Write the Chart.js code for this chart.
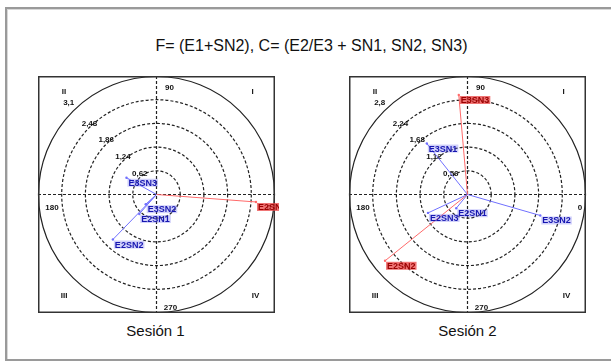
<!DOCTYPE html>
<html>
<head>
<meta charset="utf-8">
<script src="https://cdn.jsdelivr.net/npm/chart.js@4"></script>
<style>
  body { margin: 0; background: #fff; width: 611px; height: 363px; overflow: hidden; position: relative; font-family: "Liberation Sans", Arial, sans-serif; }
  #panel { position: absolute; left: 5px; top: 7px; width: 620px; height: 350px; border: 2px solid #9a9a9a; box-shadow: inset 1px 1px 0 #d8d8d8; }
  #title { position: absolute; left: 6px; width: 611px; top: 37px; text-align: center; font-size: 16px; color: #111; }
  .cap { position: absolute; top: 322px; width: 245px; text-align: center; font-size: 15px; color: #111; }
  canvas { position: absolute; top: 72px; }
</style>
</head>
<body>
<div id="panel"></div>
<div id="title">F= (E1+SN2), C= (E2/E3 + SN1, SN2, SN3)</div>
<canvas id="s1" width="245" height="245" style="left:34px"></canvas>
<canvas id="s2" width="245" height="245" style="left:345px"></canvas>
<div class="cap" style="left:33px">Sesión 1</div>
<div class="cap" style="left:345px">Sesión 2</div>
<script>
// session 1
const ringValues1 = [0.62, 1.24, 1.86, 2.48, 3.1];
const ringLabels1 = ["0,62", "1,24", "1,86", "2,48", "3,1"];
const names1 = ["E2SN", "E3SN3", "E3SN2", "E2SN1", "E2SN2"];
const radius1 = [2.61, 0.90, 0.38, 0.68, 1.64];
const angle1 = [355.7, 150.8, 222, 228.5, 225.9];
const group1 = ["red", "blue", "blue", "blue", "blue"];

// session 2
const ringValues2 = [0.56, 1.12, 1.68, 2.24, 2.8];
const ringLabels2 = ["0,56", "1,12", "1,68", "2,24", "2,8"];
const names2 = ["E3SN3", "E3SN1", "E3SN2", "E2SN3", "E2SN2", "E2SN1"];
const radius2 = [2.36, 1.54, 1.79, 1.03, 2.50, 0.42];
const angle2 = [95.0, 128.6, 343.9, 205.0, 218.8, 230.7];
const group2 = ["red", "blue", "blue", "blue", "red", "blue"];

const angleLabels = ["0", "90", "180", "270"];
const quadrantLabels = ["I", "II", "III", "IV"];

const lineColor = { red: "#ff6a6a", blue: "#7070ff" };
const boxColor = { red: "rgba(235,70,70,0.75)", blue: "rgba(120,120,240,0.35)" };
const textColor = { red: "#9a0000", blue: "#1616b0" };

function toXY(r, deg) {
  const a = deg * Math.PI / 180;
  return { x: r * Math.cos(a), y: r * Math.sin(a) };
}

const polarGrid = {
  id: "polarGrid",
  beforeDatasetsDraw(chart, args, opts) {
    const ctx = chart.ctx;
    const a = chart.chartArea;
    const xs = chart.scales.x, ys = chart.scales.y;
    const cx = xs.getPixelForValue(0), cy = ys.getPixelForValue(0);
    ctx.save();
    ctx.strokeStyle = "#222";
    ctx.lineWidth = 1.2;
    // crosshair
    ctx.setLineDash([3, 2]);
    ctx.beginPath();
    ctx.moveTo(a.left, cy); ctx.lineTo(a.right, cy);
    ctx.moveTo(cx, a.top); ctx.lineTo(cx, a.bottom);
    ctx.stroke();
    // rings
    opts.rings.forEach((v, i) => {
      const rad = xs.getPixelForValue(v) - cx;
      const last = i === opts.rings.length - 1;
      ctx.setLineDash(last ? [] : [3, 2]);
      ctx.beginPath();
      ctx.arc(cx, cy, last ? rad - 0.5 : rad, 0, Math.PI * 2);
      ctx.stroke();
    });
    ctx.setLineDash([]);
    ctx.lineWidth = 1.5;
    ctx.strokeStyle = "#333";
    ctx.strokeRect(a.left + 0.75, a.top + 0.75, a.right - a.left - 1.5, a.bottom - a.top - 1.5);

    // ring labels along 135 degrees
    ctx.fillStyle = "#111";
    ctx.font = "bold 8px 'Liberation Sans', Arial";
    ctx.textAlign = "center";
    ctx.textBaseline = "middle";
    opts.rings.forEach((v, i) => {
      const p = toXY(v, 135);
      const px = xs.getPixelForValue(p.x), py = ys.getPixelForValue(p.y);
      const shift = i === opts.rings.length - 1 ? -4 : 0;
      ctx.fillText(opts.ringLabels[i], px + shift, py - 4 + shift);
    });

    // angle and quadrant labels
    const w = a.right - a.left, h = a.bottom - a.top;
    ctx.fillText(angleLabels[1], cx + 13, a.top + 12);
    ctx.fillText(angleLabels[2], a.left + 14, cy + 13);
    ctx.fillText(angleLabels[0], a.right - 6, cy + 13);
    ctx.fillText(angleLabels[3], cx + 14, a.bottom - 5);
    ctx.fillText(quadrantLabels[1], a.left + 0.11 * w, a.top + 0.065 * h);
    ctx.fillText(quadrantLabels[0], a.left + 0.906 * w, a.top + 0.065 * h);
    ctx.fillText(quadrantLabels[2], a.left + 0.11 * w, a.top + 0.927 * h);
    ctx.fillText(quadrantLabels[3], a.left + 0.918 * w, a.top + 0.927 * h);
    ctx.restore();
  },
  afterDatasetsDraw(chart, args, opts) {
    const ctx = chart.ctx;
    ctx.save();
    ctx.font = "bold 9px 'Liberation Sans Narrow', 'Liberation Sans', Arial";
    ctx.textAlign = "left";
    ctx.textBaseline = "top";
    chart.data.datasets.forEach((ds, i) => {
      const pt = chart.getDatasetMeta(i).data[1];
      const g = opts.groups[i];
      const tw = ctx.measureText(ds.label).width;
      const x = pt.x + 1, y = pt.y + 1;
      ctx.fillStyle = boxColor[g];
      ctx.fillRect(x, y, tw + 2, 8);
      ctx.fillStyle = textColor[g];
      ctx.fillText(ds.label, x + 1, y);
    });
    ctx.restore();
  }
};

function makeChart(id, names, radius, angle, groups, rings, ringLabels) {
  const datasets = names.map((n, i) => {
    const p = toXY(radius[i], angle[i]);
    return {
      label: n,
      data: [{ x: 0, y: 0 }, p],
      showLine: true,
      borderColor: lineColor[groups[i]],
      borderWidth: 1,
      pointRadius: [0, 1.2],
      pointBackgroundColor: lineColor[groups[i]],
      pointBorderWidth: 0
    };
  });
  const R = rings[rings.length - 1];
  return new Chart(document.getElementById(id), {
    type: "scatter",
    data: { datasets: datasets },
    options: {
      responsive: false,
      animation: false,
      layout: { padding: 0 },
      scales: {
        x: { min: -R, max: R, display: false },
        y: { min: -R, max: R, display: false }
      },
      plugins: {
        legend: { display: false },
        tooltip: { enabled: false },
        polarGrid: { rings: rings, ringLabels: ringLabels, groups: groups }
      }
    },
    plugins: [polarGrid]
  });
}

makeChart("s1", names1, radius1, angle1, group1, ringValues1, ringLabels1);
makeChart("s2", names2, radius2, angle2, group2, ringValues2, ringLabels2);
</script>
</body>
</html>
